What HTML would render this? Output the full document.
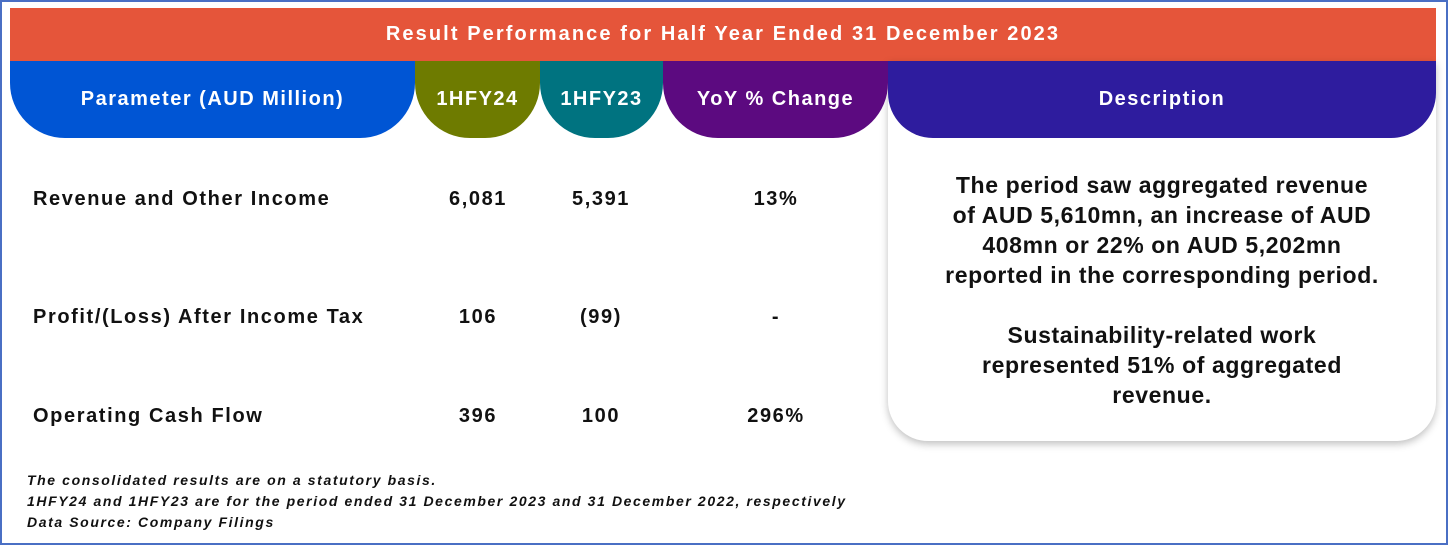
<!DOCTYPE html>
<html><head><meta charset="utf-8"><style>
body{margin:0;width:1448px;height:545px;background:#fff;font-family:"Liberation Sans",sans-serif;position:relative;overflow:hidden}
.abs{position:absolute}
.frame{left:0;top:0;width:1444px;height:541px;border:2px solid #4a6fc4}
.title{left:10px;top:8px;width:1426px;height:53px;background:#E5553A;color:#fff;font-weight:bold;font-size:20px;letter-spacing:2.1px;text-align:center;line-height:53px}
.hd{top:61px;height:77px;color:#fff;font-weight:bold;font-size:20px;letter-spacing:1.5px;display:flex;align-items:center;justify-content:center;white-space:nowrap}
.cell{font-weight:bold;font-size:20px;letter-spacing:1.6px;color:#111;text-align:center;white-space:nowrap}
.desc{left:888px;top:61px;width:548px;height:380px;border-radius:0 0 40px 40px;box-shadow:0 3px 8px rgba(0,0,0,.25);background:#fff}
.dtext{left:878px;top:170px;width:568px;text-align:center;font-weight:bold;font-size:23px;letter-spacing:0.6px;line-height:30px;color:#111}
.foot{left:27px;font-style:italic;font-weight:bold;font-size:14px;letter-spacing:1.6px;color:#111;white-space:nowrap}
</style></head><body>
<div class="abs frame"></div>
<div class="abs title">Result Performance for Half Year Ended 31 December 2023</div>
<div class="abs desc"></div>
<div class="abs hd" style="left:10px;width:405px;background:#0055D4;border-radius:0 0 55px 55px">Parameter (AUD Million)</div>
<div class="abs hd" style="left:415px;width:125px;background:#6E7B00;border-radius:0 0 55px 55px">1HFY24</div>
<div class="abs hd" style="left:540px;width:123px;background:#007380;border-radius:0 0 55px 55px">1HFY23</div>
<div class="abs hd" style="left:663px;width:225px;background:#5C0A80;border-radius:0 0 55px 55px">YoY % Change</div>
<div class="abs hd" style="left:888px;width:548px;background:#2E1C9E;border-radius:0 0 45px 45px">Description</div>

<div class="abs cell" style="left:33px;top:188px;text-align:left">Revenue and Other Income</div>
<div class="abs cell" style="left:418px;width:120px;top:188px">6,081</div>
<div class="abs cell" style="left:541px;width:120px;top:188px">5,391</div>
<div class="abs cell" style="left:676px;width:200px;top:188px">13%</div>

<div class="abs cell" style="left:33px;top:306px;text-align:left">Profit/(Loss) After Income Tax</div>
<div class="abs cell" style="left:418px;width:120px;top:306px">106</div>
<div class="abs cell" style="left:541px;width:120px;top:306px">(99)</div>
<div class="abs cell" style="left:676px;width:200px;top:306px">-</div>

<div class="abs cell" style="left:33px;top:405px;text-align:left">Operating Cash Flow</div>
<div class="abs cell" style="left:418px;width:120px;top:405px">396</div>
<div class="abs cell" style="left:541px;width:120px;top:405px">100</div>
<div class="abs cell" style="left:676px;width:200px;top:405px">296%</div>

<div class="abs dtext">The period saw aggregated revenue<br>of AUD 5,610mn, an increase of AUD<br>408mn or 22% on AUD 5,202mn<br>reported in the corresponding period.<br><br>Sustainability-related work<br>represented 51% of aggregated<br>revenue.</div>

<div class="abs foot" style="top:472px">The consolidated results are on a statutory basis.</div>
<div class="abs foot" style="top:493px">1HFY24 and 1HFY23 are for the period ended 31 December 2023 and 31 December 2022, respectively</div>
<div class="abs foot" style="top:514px">Data Source: Company Filings</div>
</body></html>
